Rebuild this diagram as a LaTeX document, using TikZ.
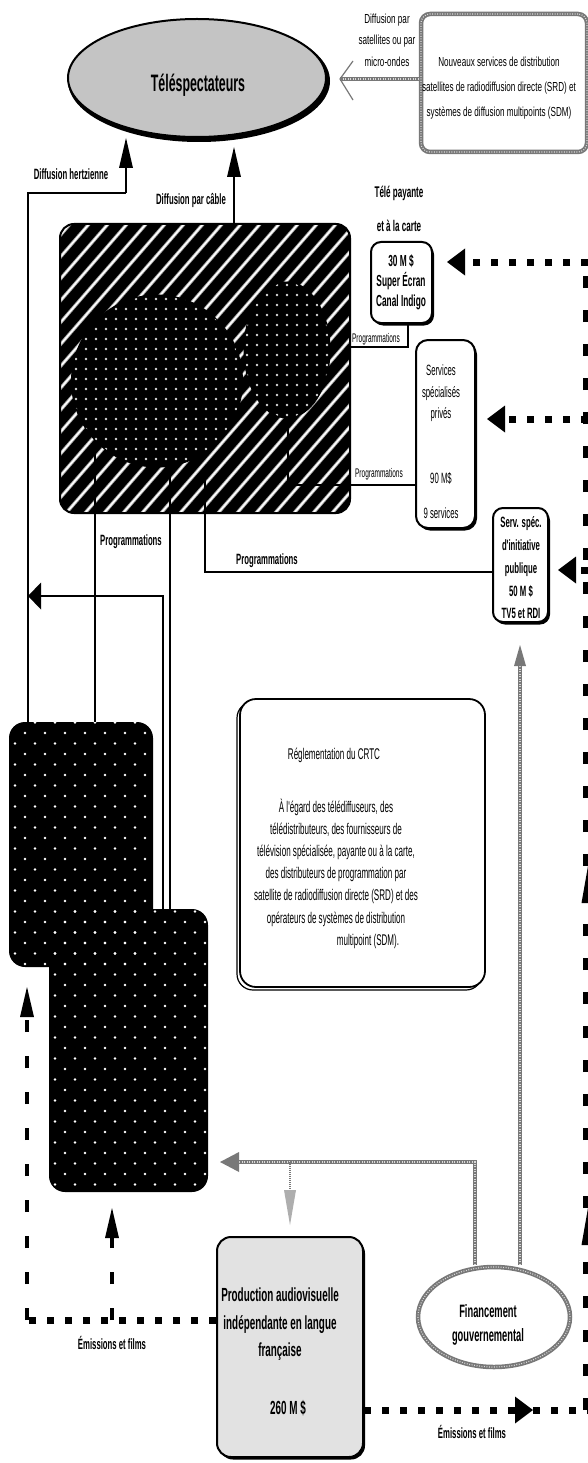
\documentclass[tikz,border=0pt]{standalone}
\usepackage{fontspec}
\setmainfont{Liberation Sans}
\newfontfamily\fN{Liberation Sans}[FakeStretch=0.52]
\newfontfamily\fW{Liberation Sans}[FakeStretch=0.62]
\usetikzlibrary{shapes.geometric,arrows.meta,shadows}
\definecolor{telegray}{RGB}{196,196,196}
\definecolor{prodgray}{RGB}{226,226,226}
\definecolor{chkgray}{RGB}{120,120,120}
\newcommand\fsz[2]{\fontsize{#1}{#2}\selectfont}
\newcommand\mydotgrid{%
  \foreach \r in {0,...,47}{%
    \pgfmathsetmacro\yy{712+\r*10.5}%
    \pgfmathsetmacro\off{mod(\r,2)*10}%
    \foreach \c in {0,...,11}{\fill[white] ({5+\c*20+\off},\yy) circle [radius=1.3pt];}}}
\tikzset{
  txt/.style={inner sep=0pt, align=center},
  ln/.style={draw=black, line width=1.4pt},
  vtip/.style={-{Triangle[length=30pt,width=14pt,line width=0pt]}},
  ltip/.style={-{Triangle[length=13pt,width=27pt,line width=0pt]}},
  htip/.style={-{Triangle[length=18pt,width=27pt,line width=0pt]}},
  utip/.style={-{Triangle[length=37pt,width=13pt,line width=0pt]}},
  dh/.style={draw=black, line width=7pt, dash pattern=on 7pt off 11pt},
  dv/.style={draw=black, line width=10pt, dash pattern=on 12pt off 22pt},
  dvl/.style={draw=black, line width=4pt, dash pattern=on 12pt off 24pt},
  chk/.style={draw=chkgray, line width=4.5pt, postaction={draw=white!85!black, line width=1.2pt, dash pattern=on 0.9pt off 1.6pt}},
  box/.style={draw=black, line width=2pt, fill=white, inner sep=0pt},
  shad/.style={drop shadow={shadow xshift=2pt, shadow yshift=-2.5pt, opacity=1, fill=black}},
}
\begin{document}
\begin{tikzpicture}[x=1pt,y=-1pt]
\useasboundingbox (0,0) rectangle (588,1463);
\fill[white] (0,0) rectangle (588,1463);

% ---------- Téléspectateurs
\fill[black] (199,81) ellipse [x radius=131, y radius=61];
\node[ellipse, draw=black, line width=2pt, fill=telegray, minimum width=258pt, minimum height=118pt, inner sep=0pt] (tele) at (197,78) {};
\node[txt, font=\fN\bfseries\fsz{23.8}{28}] (teletxt) at (198,85) {Téléspectateurs};

% ---------- SRD / SDM box
\node[chk, fill=white, rounded corners=9pt, minimum width=166pt, minimum height=138pt, inner sep=0pt] (srd) at (504,83) {};
\node[txt, font=\fW\fsz{13.1}{25}] (srdtxt) at (499,88) {Nouveaux services de distribution\\satellites de radiodiffusion directe (SRD) et\\systèmes de diffusion multipoints (SDM)};
\coordinate (satTip) at (340,79);
\draw[chk] (srd.west |- satTip) -- (satTip);
\draw[chkgray, line width=1.2pt] (353,61) -- (satTip) -- (353,100);
\node[txt, font=\fW\fsz{13.1}{21.5}] (satlbl) at (387,40) {Diffusion par\\satellites ou par\\micro-ondes};

% ---------- hatched box (télédistribution)
\begin{scope}
  \clip[rounded corners=14pt] (60,224) rectangle (350,513);
  \fill[black] (60,224) rectangle (350,513);
  \foreach \k in {-380,-361,...,300}{
    \draw[gray!70, line width=3.4pt] (60+\k,520) -- ++(330,-380);
    \draw[white, line width=1.6pt] (60+\k,520) -- ++(330,-380);}
\end{scope}
\node[draw=black, line width=2pt, rounded corners=14pt, minimum width=290pt, minimum height=289pt, inner sep=0pt] (cable) at (205,368.5) {};

\begin{scope}
  \clip (157,381) ellipse [x radius=85.5, y radius=86];
  \fill[black] (157,381) ellipse [x radius=85.5, y radius=86];
  \foreach \i in {0,...,17}{\foreach \j in {0,...,17}{\fill[white!85!black] (76+\i*10,299+\j*10) circle [radius=1.3pt];}}
\end{scope}
\node[ellipse, draw=black, line width=1pt, minimum width=171pt, minimum height=172pt, inner sep=0pt] (bigc) at (157,381) {};

\begin{scope}
  \clip (287,350) ellipse [x radius=43, y radius=68];
  \fill[black] (287,350) ellipse [x radius=43, y radius=68];
  \foreach \i in {0,...,9}{\foreach \j in {0,...,14}{\fill[white!85!black] (247+\i*10,285+\j*10) circle [radius=1.3pt];}}
\end{scope}
\node[ellipse, draw=black, line width=1pt, minimum width=86pt, minimum height=136pt, inner sep=0pt] (smallc) at (287,350) {};

% ---------- left dotted boxes
\node[fill=black, rounded corners=16pt, minimum width=144pt, minimum height=245pt, inner sep=0pt] (emA) at (81,844.5) {};
\node[fill=black, rounded corners=16pt, minimum width=159pt, minimum height=283pt, inner sep=0pt] (emB) at (128.5,1050.5) {};
\begin{scope}
  \clip[rounded corners=16pt] (9,722) rectangle (153,967);
  \mydotgrid
\end{scope}
\begin{scope}
  \clip[rounded corners=16pt] (49,909) rectangle (208,1192);
  \mydotgrid
\end{scope}

% ---------- right boxes
\node[box, shad, rounded corners=10pt, minimum width=61pt, minimum height=81pt] (tp) at (401.5,282.5) {};
\node[txt, font=\fN\bfseries\fsz{16}{20}] (tptxt) at (401,282) {30 M \$\\Super Écran\\Canal Indigo};
\node[txt, font=\fN\bfseries\fsz{15.5}{34}] (tplbl) at (399,209) {Télé payante\\et à la carte};

\node[box, shad, rounded corners=12pt, minimum width=59pt, minimum height=188pt] (ssp) at (445.5,434) {};
\node[txt, font=\fN\fsz{14.9}{21.5}] (ssptxt) at (441,393.5) {Services\\spécialisés\\privés};
\node[txt, font=\fN\fsz{14.9}{17}] (sspm) at (441,478) {90 M\$};
\node[txt, font=\fN\fsz{14.9}{17}] (sspn) at (441,513) {9 services};

\node[box, shad, rounded corners=10pt, minimum width=55pt, minimum height=114pt] (sip) at (520.5,565) {};
\node[txt, font=\fN\bfseries\fsz{14.9}{22.75}] (siptxt) at (521,568) {Serv. spéc.\\d'initiative\\publique\\50 M \$\\TV5 et RDI};

% ---------- CRTC box
\draw[black, line width=1.2pt, rounded corners=16pt] (237,702) rectangle (482,990);
\node[box, line width=1.8pt, rounded corners=16pt, minimum width=245pt, minimum height=288pt] (crtc) at (362.5,843) {};
\node[txt, font=\fN\fsz{15.5}{18}] (crtct) at (334,755) {Réglementation du CRTC};
\node[txt, font=\fN\fsz{15.5}{22.2}] (crtcb) at (336,873.5) {À l'égard des télédiffuseurs, des\\télédistributeurs, des fournisseurs de\\télévision spécialisée, payante ou à la carte,\\des distributeurs de programmation par\\satellite de radiodiffusion directe (SRD) et des\\opérateurs de systèmes de distribution\\\hspace*{64pt}multipoint (SDM).};

% ---------- Production box
\node[box, fill=prodgray, shad, rounded corners=14pt, minimum width=146pt, minimum height=220pt] (prod) at (290,1347) {};
\node[txt, font=\fN\bfseries\fsz{19}{27.5}] (prodt) at (280,1324.5) {Production audiovisuelle\\indépendante en langue\\française};
\node[txt, font=\fN\bfseries\fsz{19}{22}] (prodm) at (288,1408) {260 M \$};

% ---------- Financement
\node[ellipse, chk, fill=white, minimum width=152pt, minimum height=100pt, inner sep=0pt] (fin) at (494,1317) {};
\node[txt, font=\fN\bfseries\fsz{17.9}{24}] (fint) at (488,1325) {Financement\\gouvernemental};

% ---------- black connectors
\coordinate (hz2) at (28,193);
\coordinate (hz3) at (126,193);
\draw[ln] (emA.north -| hz2) -- (hz2) -- (hz3);
\draw[ln, vtip] (hz3) -- (tele.south -| hz3);
\node[txt, font=\fN\bfseries\fsz{14.9}{17}] (hzl) at (71,174) {Diffusion hertzienne};

\coordinate (cbtip) at (234,147);
\draw[ln, vtip] (cable.north -| cbtip) -- (cbtip);
\node[txt, font=\fN\bfseries\fsz{14.9}{17}] (cbl) at (191,200) {Diffusion par câble};

\coordinate (p1) at (408,347);
\draw[ln] (cable.east |- p1) -- (p1) -- (tp.south -| p1);
\node[txt, font=\fN\fsz{12.5}{15}] (pl1) at (376,339) {Programmations};
\coordinate (p2) at (350,485);
\draw[ln] (288,418) -- (288,485) -- (p2) -- (ssp.west |- p2);
\node[txt, font=\fN\fsz{12.5}{15}] (pl2) at (379,474) {Programmations};
\coordinate (p3) at (205,572);
\draw[ln] (205,478) -- (p3) -- (sip.west |- p3);
\node[txt, font=\fN\bfseries\fsz{14.9}{17}] (pl3) at (267,561) {Programmations};

\draw[ln] (95,452) -- (emA.north -| 95,0);
\node[txt, font=\fN\bfseries\fsz{14.9}{17}] (pl4) at (131,542) {Programmations};
\draw[ln] (170,465) -- (emB.north -| 170,0);
\coordinate (lt1) at (163,596);
\draw[ln, ltip] (emB.north -| lt1) -- (lt1) -- (hz2 |- lt1);

% ---------- dashed black connectors (right)
\draw[dh, htip] (588,262) -- (447,262);
\draw[dh, htip] (588,419) -- (487,419);
\draw[dh, htip] (588,570) -- (558,570);
\draw[dv, utip] (588,1410) -- (588,1208);
\draw[dv, utip] (588,1208) -- (588,866);
\draw[dv] (588,866) -- (588,262);
\coordinate (em2) at (533,1410);
\draw[dh, htip] (prod.east |- em2) -- (em2);
\draw[dh] (em2) -- (588,1410);
\node[txt, font=\fN\bfseries\fsz{14.9}{17}] (eml2) at (472,1432) {Émissions et films};

% ---------- dashed black connectors (left)
\coordinate (el) at (27,1320);
\coordinate (em) at (112,1320);
\draw[dh] (prod.west |- el) -- (el);
\draw[dvl, vtip] (el) -- (27,987);
\draw[dvl, vtip] (em) -- (112,1208);
\node[txt, font=\fN\bfseries\fsz{14.9}{17}] (eml1) at (112,1343) {Émissions et films};

% ---------- gray (funding) connectors
\coordinate (g1) at (475,1162);
\coordinate (g2) at (290,1162);
\draw[chk] (fin.north -| g1) -- (g1) -- (238,1162);
\fill[chkgray] (220,1162) -- (239,1152) -- (239,1172) -- cycle;
\draw[chkgray, line width=2pt, dash pattern=on 1.2pt off 0.8pt] (g2) -- (290,1192);
\fill[chkgray!60] (290,1225) -- (284,1190) -- (296,1190) -- cycle;
\draw[chk] (fin.north -| 520,0) -- (520,664);
\fill[chkgray] (520,645) -- (514,666) -- (526,666) -- cycle;
\end{tikzpicture}
\end{document}
